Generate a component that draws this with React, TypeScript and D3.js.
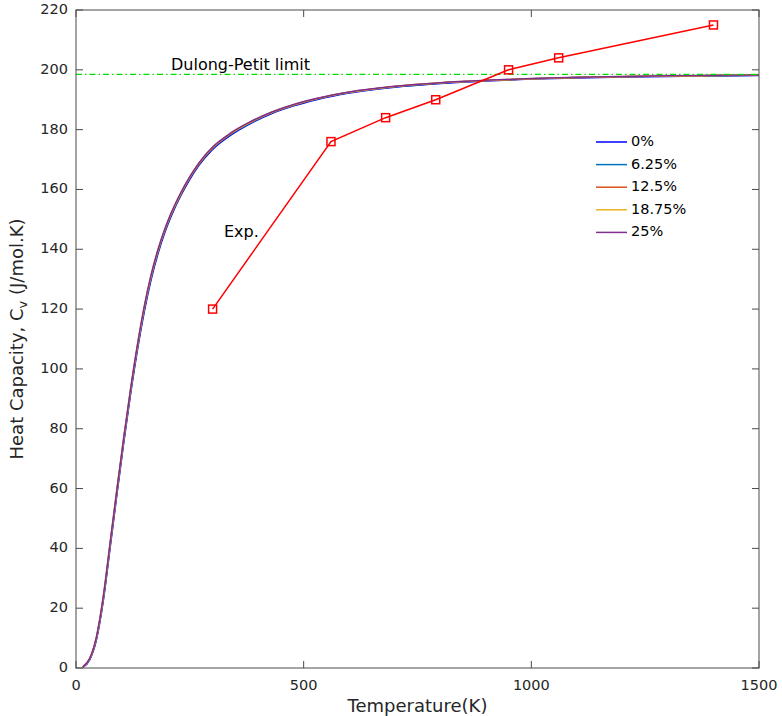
import React from 'react';
import * as d3 from 'd3';

// temperature grid (K) shared by the calculated curves
const temps = [15, 30, 45, 60, 75, 90, 105, 120, 135, 150, 165, 180, 195, 210, 230, 250, 270, 300, 340, 380, 430, 480, 530, 600, 700, 800, 900, 1000, 1100, 1200, 1300, 1400, 1500];

// Cv (J/mol.K), one array per doping level
const cv0 = [0.2, 2.7, 9.5, 22.5, 40.2, 58.2, 75.5, 91.7, 106.4, 119.2, 129.9, 138.5, 145.6, 151.4, 157.9, 163.4, 168.05, 173.4, 178.2, 181.8, 185.4, 188.05, 190.1, 192.25, 194.2, 195.45, 196.3, 196.9, 197.3, 197.6, 197.8, 197.95, 198.1];
const cv625 = [0.3, 2.9, 9.9, 23.1, 40.9, 58.9, 76.2, 92.4, 107.1, 119.9, 130.5, 139.1, 146.1, 151.8, 158.3, 163.8, 168.4, 173.7, 178.5, 182.0, 185.6, 188.2, 190.3, 192.4, 194.3, 195.55, 196.4, 197.0, 197.4, 197.7, 197.9, 198.05, 198.2];
const cv125 = [0.3, 3.0, 10.2, 23.5, 41.4, 59.4, 76.7, 92.9, 107.6, 120.4, 130.9, 139.4, 146.4, 152.1, 158.5, 164.0, 168.6, 173.9, 178.7, 182.2, 185.7, 188.3, 190.4, 192.5, 194.4, 195.6, 196.4, 197.0, 197.4, 197.7, 197.9, 198.1, 198.2];
const cv1875 = [0.4, 3.1, 10.4, 23.8, 41.7, 59.7, 77.0, 93.2, 107.9, 120.7, 131.3, 139.7, 146.6, 152.3, 158.8, 164.2, 168.8, 174.1, 178.8, 182.3, 185.8, 188.4, 190.4, 192.5, 194.45, 195.65, 196.45, 197.05, 197.45, 197.75, 197.95, 198.1, 198.25];
const cv25 = [0.4, 3.2, 10.5, 24, 42, 60, 77.3, 93.5, 108.2, 121, 131.5, 139.9, 146.8, 152.5, 158.9, 164.3, 168.9, 174.2, 178.9, 182.4, 185.9, 188.5, 190.5, 192.6, 194.5, 195.7, 196.5, 197.1, 197.5, 197.8, 198.0, 198.15, 198.3];

const seriesNames = ['0%', '6.25%', '12.5%', '18.75%', '25%'];
const seriesValues = [cv0, cv625, cv125, cv1875, cv25];
const seriesColors = ['#0000ff', '#0072bd', '#d95319', '#edb120', '#7e2f8e'];

// experimental points
const expT = [300, 560, 680, 790, 950, 1060, 1400];
const expCv = [120, 176, 184, 190, 200, 204, 215];

const dulongPetit = 198.5;

const xTicks = [0, 500, 1000, 1500];
const yTicks = [0, 20, 40, 60, 80, 100, 120, 140, 160, 180, 200, 220];

const W = 782;
const H = 716;
const margin = { top: 10, right: 23, bottom: 48, left: 76 };
const axisColor = '#262626';
const boxColor = '#4a4a4a';
const font = 'DejaVu Sans, sans-serif';

export default function App() {
  const x = d3.scaleLinear().domain([0, 1500]).range([margin.left, W - margin.right]);
  const y = d3.scaleLinear().domain([0, 220]).range([H - margin.bottom, margin.top]);
  const x0 = x(0), x1 = x(1500), y0 = y(0), y1 = y(220);
  const tick = 7;

  const line = d3.line<number>()
    .x((_, i) => x(temps[i]))
    .y((d) => y(d))
    .curve(d3.curveMonotoneX);

  const expLine = d3.line<number>()
    .x((_, i) => x(expT[i]))
    .y((d) => y(d));

  const legX = 596;
  const legY = 142;
  const legStep = 22.6;

  return (
    <svg width={W} height={H} style={{ position: 'absolute', left: 0, top: 0, background: '#fff' }} fontFamily={font}>
      <rect x={0} y={0} width={W} height={H} fill="#fff" />

      {/* calculated curves */}
      {seriesValues.map((vals, i) => (
        <path key={seriesNames[i]} d={line(vals) || ''} fill="none" stroke={seriesColors[i]} strokeWidth={1.5} />
      ))}

      {/* Dulong-Petit limit */}
      <line x1={x0} x2={x1} y1={y(dulongPetit)} y2={y(dulongPetit)} stroke="#00e000" strokeWidth={1.3} strokeDasharray="6 3 1.5 3" />
      <text x={171} y={70} fontSize={16} fill="#000">Dulong-Petit limit</text>

      {/* experiment */}
      <path d={expLine(expCv) || ''} fill="none" stroke="#ff0000" strokeWidth={1.5} />
      {expCv.map((v, i) => (
        <rect key={i} x={x(expT[i]) - 4} y={y(v) - 4} width={8} height={8} fill="none" stroke="#ff0000" strokeWidth={1.5} />
      ))}
      <text x={224} y={237} fontSize={16} fill="#000">Exp.</text>

      {/* box and ticks */}
      <rect x={x0} y={y1} width={x1 - x0} height={y0 - y1} fill="none" stroke={boxColor} strokeWidth={1} />
      {xTicks.map((t) => (
        <g key={'x' + t}>
          <line x1={x(t)} x2={x(t)} y1={y0} y2={y0 - tick} stroke={boxColor} />
          <line x1={x(t)} x2={x(t)} y1={y1} y2={y1 + tick} stroke={boxColor} />
          <text x={x(t)} y={y0 + 18} fontSize={14.5} fill={axisColor} textAnchor="middle" dominantBaseline="middle">{t}</text>
        </g>
      ))}
      {yTicks.map((t) => (
        <g key={'y' + t}>
          <line x1={x0} x2={x0 + tick} y1={y(t)} y2={y(t)} stroke={boxColor} />
          <line x1={x1} x2={x1 - tick} y1={y(t)} y2={y(t)} stroke={boxColor} />
          <text x={x0 - 8} y={y(t)} fontSize={14.5} fill={axisColor} textAnchor="end" dominantBaseline="middle">{t}</text>
        </g>
      ))}

      {/* axis titles */}
      <text x={(x0 + x1) / 2} y={712} fontSize={18} fill={axisColor} textAnchor="middle">Temperature(K)</text>
      <text transform={`translate(23, ${(y0 + y1) / 2}) rotate(-90)`} fontSize={18} fill={axisColor} textAnchor="middle">
        Heat Capacity, C<tspan fontSize={13} dy={4}>v</tspan><tspan dy={-4}> (J/mol.K)</tspan>
      </text>

      {/* legend */}
      {seriesNames.map((n, i) => (
        <g key={'leg' + n}>
          <line x1={legX} x2={legX + 31} y1={legY + i * legStep} y2={legY + i * legStep} stroke={seriesColors[i]} strokeWidth={1.5} />
          <text x={legX + 35} y={legY + i * legStep} fontSize={14.5} fill="#000" dominantBaseline="middle">{n}</text>
        </g>
      ))}
    </svg>
  );
}
